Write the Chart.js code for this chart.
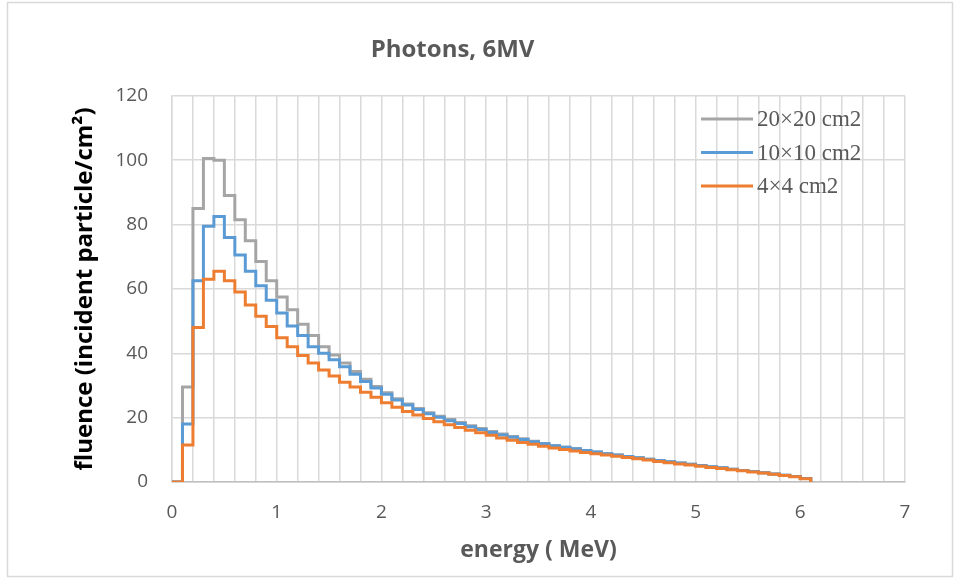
<!DOCTYPE html>
<html>
<head>
<meta charset="utf-8">
<title>Photons, 6MV</title>
<script src="https://cdn.jsdelivr.net/npm/chart.js@4/dist/chart.umd.min.js"></script>
<style>
  html, body { margin: 0; padding: 0; background: #fff; }
  #wrap { width: 960px; height: 579px; }
</style>
</head>
<body>
<div id="wrap"><canvas id="spectrumChart" width="960" height="579"></canvas></div>
<script>
// bin start energies (MeV), 0.1 MeV bins
const energies = [0.0, 0.1, 0.2, 0.3, 0.4, 0.5, 0.6, 0.7, 0.8, 0.9,
    1.0, 1.1, 1.2, 1.3, 1.4, 1.5, 1.6, 1.7, 1.8, 1.9,
    2.0, 2.1, 2.2, 2.3, 2.4, 2.5, 2.6, 2.7, 2.8, 2.9,
    3.0, 3.1, 3.2, 3.3, 3.4, 3.5, 3.6, 3.7, 3.8, 3.9,
    4.0, 4.1, 4.2, 4.3, 4.4, 4.5, 4.6, 4.7, 4.8, 4.9,
    5.0, 5.1, 5.2, 5.3, 5.4, 5.5, 5.6, 5.7, 5.8, 5.9,
    6.0, 6.1];

const field20 = [0, 29.5, 85, 100.5, 100, 89, 81.5, 75, 68.5, 62.5,
    57.5, 53.5, 49, 45.5, 42, 39.5, 37, 34.3, 31.9, 29.7,
    27.7, 25.9, 24.2, 22.8, 21.5, 20.4, 19.4, 18.5, 17.5, 16.6,
    15.7, 14.9, 14.1, 13.4, 12.7, 12.0, 11.3, 10.8, 10.3, 9.8,
    9.3, 8.8, 8.4, 7.9, 7.5, 7.1, 6.7, 6.3, 5.9, 5.5,
    5.1, 4.7, 4.4, 4.0, 3.6, 3.3, 2.9, 2.5, 2.1, 1.7,
    1.1, 0];

const field10 = [0, 18, 62.5, 79.5, 82.5, 76, 70.5, 65.5, 61, 56.5,
    52.5, 48.5, 45.5, 42, 40, 38, 35.8, 33.5, 31.2, 29.2,
    27.3, 25.5, 23.9, 22.5, 21.2, 20.1, 19, 18.2, 17.2, 16.3,
    15.4, 14.6, 13.9, 13.2, 12.5, 11.9, 11.3, 10.8, 10.3, 9.8,
    9.3, 8.8, 8.4, 7.9, 7.5, 7.1, 6.7, 6.3, 5.9, 5.5,
    5.1, 4.7, 4.4, 4.0, 3.6, 3.3, 2.9, 2.5, 2.1, 1.7,
    1.1, 0];

const field4 = [0, 11.5, 48, 63, 65.5, 62.5, 59, 55, 51.5, 48.3,
    44.8, 42, 39.3, 37, 34.8, 32.9, 31, 29.5, 27.9, 26.3,
    24.6, 23.2, 21.9, 20.8, 19.7, 18.7, 17.8, 16.9, 16.1, 15.3,
    14.5, 13.7, 13.0, 12.3, 11.7, 11.1, 10.6, 10.1, 9.6, 9.2,
    8.8, 8.4, 8.0, 7.6, 7.2, 6.8, 6.4, 6.0, 5.6, 5.3,
    4.9, 4.5, 4.2, 3.8, 3.5, 3.1, 2.8, 2.4, 2.0, 1.6,
    1.0, 0];

const seriesLabels = ['20×20 cm2', '10×10 cm2', '4×4 cm2'];
const seriesColors = ['#A5A5A5', '#5B9BD5', '#ED7D31'];

function toPoints(values) {
    return energies.map(function(e, i) { return { x: e, y: values[i] }; });
}

// outer frame of the chart
const framePlugin = {
    id: 'frame',
    beforeDraw: function(chart) {
        const ctx = chart.ctx;
        ctx.save();
        ctx.fillStyle = '#fff';
        ctx.fillRect(0, 0, chart.width, chart.height);
        ctx.strokeStyle = '#D9D9D9';
        ctx.lineWidth = 1.5;
        ctx.strokeRect(7.5, 2.5, 945, 574);
        ctx.restore();
    }
};

// legend drawn inside the plot, top right
const insideLegend = {
    id: 'insideLegend',
    afterDraw: function(chart) {
        const ctx = chart.ctx;
        ctx.save();
        ctx.font = '23px "Liberation Serif", "Times New Roman", serif';
        ctx.textBaseline = 'middle';
        chart.data.datasets.forEach(function(ds, i) {
            const y = 119 + i * 33.5;
            ctx.strokeStyle = ds.borderColor;
            ctx.lineWidth = 3;
            ctx.beginPath();
            ctx.moveTo(701, y);
            ctx.lineTo(753, y);
            ctx.stroke();
            ctx.fillStyle = '#595959';
            ctx.fillText(ds.label, 757, y + 1);
        });
        ctx.restore();
    }
};

const ctx = document.getElementById('spectrumChart').getContext('2d');
const spectrumChart = new Chart(ctx, {
    type: 'line',
    data: {
        datasets: [0, 1, 2].map(function(i) {
            return {
                label: seriesLabels[i],
                data: toPoints([field20, field10, field4][i]),
                borderColor: seriesColors[i],
                backgroundColor: seriesColors[i],
                borderWidth: 3,
                pointRadius: 0,
                stepped: true,
                fill: false,
                order: 2 - i   // later series on top, like the original
            };
        })
    },
    options: {
        responsive: false,
        animation: false,
        layout: { padding: { left: 0, right: 55, top: 0, bottom: 0 } },
        plugins: {
            legend: { display: false },
            tooltip: { enabled: false },
            title: {
                display: true,
                text: 'Photons, 6MV',
                color: '#595959',
                font: { family: '"Open Sans", sans-serif', size: 24, weight: 'bold' },
                padding: { top: 36, bottom: 31 }
            }
        },
        scales: {
            x: {
                type: 'linear',
                min: 0,
                max: 7,
                ticks: {
                    stepSize: 0.2,
                    autoSkip: false,
                    maxRotation: 0,
                    padding: 19,
                    color: '#595959',
                    font: { family: '"Open Sans", sans-serif', size: 19 },
                    callback: function(v) {
                        return Math.abs(v - Math.round(v)) < 1e-6 ? String(Math.round(v)) : '';
                    }
                },
                grid: { color: '#D9D9D9', lineWidth: 1.5, drawTicks: false },
                border: { color: '#BFBFBF', width: 1.5 },
                title: {
                    display: true,
                    text: 'energy ( MeV)',
                    color: '#595959',
                    font: { family: '"Open Sans", sans-serif', size: 23, weight: 'bold' },
                    padding: { top: 0, bottom: 15 }
                },
                afterFit: function(scale) { scale.height = 97; }
            },
            y: {
                min: 0,
                max: 120,
                ticks: {
                    stepSize: 20,
                    padding: 24,
                    color: '#595959',
                    font: { family: '"Open Sans", sans-serif', size: 19 }
                },
                grid: { color: '#D9D9D9', lineWidth: 1.5, drawTicks: false },
                border: { color: '#D9D9D9', width: 1.5 },
                title: {
                    display: true,
                    text: 'fluence (incident particle/cm²)',
                    color: '#000',
                    font: { family: '"Open Sans", sans-serif', size: 24, weight: 'bold' },
                    padding: { top: 71, bottom: 0 }
                },
                afterFit: function(scale) { scale.width = 172; }
            }
        }
    },
    plugins: [framePlugin, insideLegend]
});
</script>
</body>
</html>
